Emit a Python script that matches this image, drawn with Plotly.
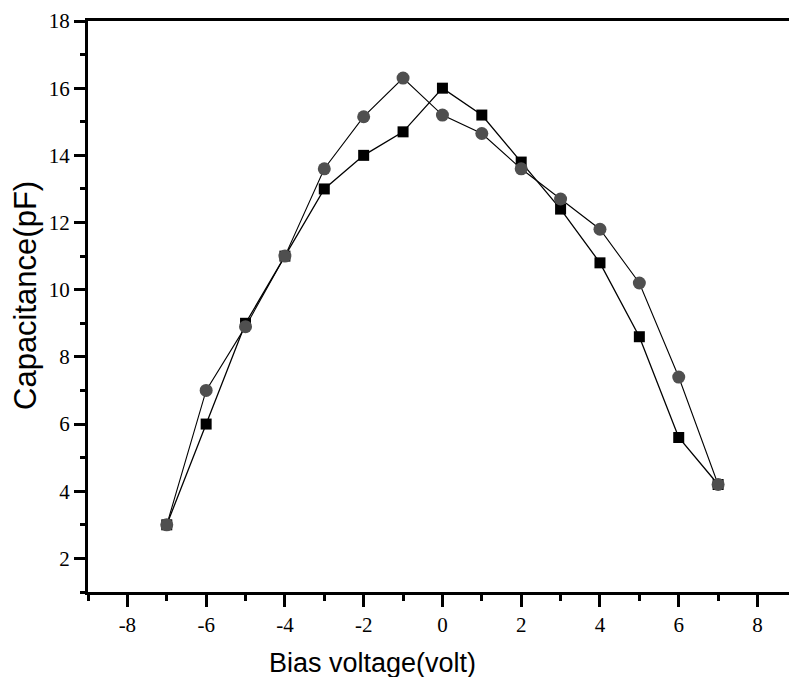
import plotly.graph_objects as go

bias_voltage = [-7, -6, -5, -4, -3, -2, -1, 0, 1, 2, 3, 4, 5, 6, 7]
cap_square = [3.0, 6.0, 9.0, 11.0, 13.0, 14.0, 14.7, 16.0, 15.2, 13.8, 12.4, 10.8, 8.6, 5.6, 4.2]
cap_circle = [3.0, 7.0, 8.9, 11.0, 13.6, 15.15, 16.3, 15.2, 14.65, 13.6, 12.7, 11.8, 10.2, 7.4, 4.2]

x_tickvals = [-8, -6, -4, -2, 0, 2, 4, 6, 8]
x_ticktext = ["-8", "-6", "-4", "-2", "0", "2", "4", "6", "8"]
y_tickvals = [2, 4, 6, 8, 10, 12, 14, 16, 18]
y_ticktext = ["2", "4", "6", "8", "10", "12", "14", "16", "18"]

x_title = "Bias voltage(volt)"
y_title = "Capacitance(pF)"

fig = go.Figure()
fig.add_trace(go.Scatter(
    x=bias_voltage, y=cap_square, mode="lines+markers",
    line=dict(color="black", width=1.3),
    marker=dict(symbol="square", size=11, color="black"),
    showlegend=False,
))
fig.add_trace(go.Scatter(
    x=bias_voltage, y=cap_circle, mode="lines+markers",
    line=dict(color="black", width=1.1),
    marker=dict(symbol="circle", size=13, color="#4f4f4f"),
    showlegend=False,
))

tickfont = dict(family="Liberation Serif", size=21, color="black")
fig.update_layout(
    width=789, height=677,
    margin=dict(l=88, r=0, t=21, b=85),
    paper_bgcolor="white", plot_bgcolor="white",
    xaxis=dict(
        range=[-9, 8.8], tickmode="array", tickvals=x_tickvals, ticktext=x_ticktext,
        ticks="outside", ticklen=12, tickwidth=3,
        tickcolor="black", showline=True, linewidth=3, linecolor="black", mirror=True,
        showgrid=False, zeroline=False, tickfont=tickfont,
        minor=dict(dtick=1, tick0=0, ticks="outside", ticklen=6, tickwidth=3, tickcolor="black", showgrid=False),
    ),
    yaxis=dict(
        range=[1, 18], tickmode="array", tickvals=y_tickvals, ticktext=y_ticktext,
        ticks="outside", ticklen=11, tickwidth=3,
        tickcolor="black", showline=True, linewidth=3, linecolor="black",
        showgrid=False, zeroline=False, tickfont=tickfont,
        minor=dict(dtick=1, tick0=0, ticks="outside", ticklen=5, tickwidth=3, tickcolor="black", showgrid=False),
    ),
    annotations=[
        dict(text=x_title, xref="paper", yref="paper", x=0.406, y=-0.125,
             xanchor="center", yanchor="middle", showarrow=False,
             font=dict(family="Liberation Sans", size=27, color="black")),
        dict(text=y_title, xref="paper", yref="paper", x=-0.09, y=0.52,
             xanchor="center", yanchor="middle", showarrow=False, textangle=-90,
             font=dict(family="Liberation Sans", size=31, color="black")),
    ],
)

fig.write_html("out.html", config={"displayModeBar": False},
               post_script="document.body.style.margin='0';document.body.style.overflow='hidden';")
